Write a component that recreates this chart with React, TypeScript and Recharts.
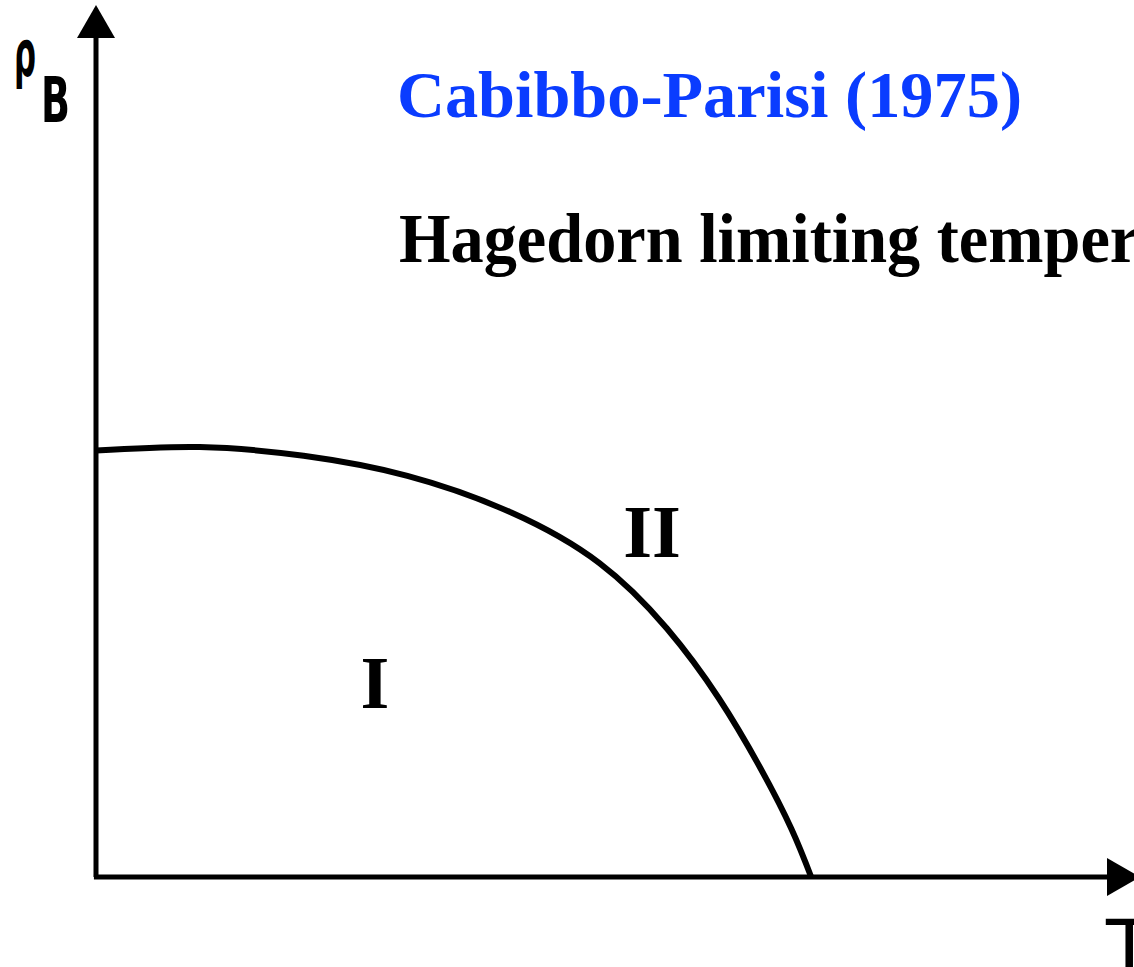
import React from 'react';
import { ComposedChart, Line, Scatter, XAxis, YAxis, ReferenceLine } from 'recharts';

// phase boundary (T and rho_B in arbitrary units, 0..100)
const tValues = [0, 10, 20, 30, 40, 48.5, 55, 60, 64, 67, 68.9];
const rhoValues = [48.9, 49.3, 48.3, 46.0, 41.8, 36.0, 28.5, 20.5, 12.5, 5.5, 0];

const boundary = tValues.map((t, i) => ({ t, rho: rhoValues[i] }));

const xArrowTip = [{ t: 100, rho: 0 }];
const yArrowTip = [{ t: 0, rho: 100 }];

const XArrow = (props: any) => {
    const { cx, cy } = props;
    return <polygon points={`${cx + 6},${cy} ${cx - 27},${cy - 19} ${cx - 27},${cy + 19}`} fill="#000" />;
};

const YArrow = (props: any) => {
    const { cx, cy } = props;
    return <polygon points={`${cx},${cy} ${cx - 19},${cy + 33} ${cx + 19},${cy + 33}`} fill="#000" />;
};

export default function App() {
    return (
        <div style={{ position: 'absolute', left: 0, top: 0, width: 1134, height: 967, background: '#fff', overflow: 'hidden' }}>
            <ComposedChart width={1134} height={967} margin={{ top: 5, right: 0, bottom: 90, left: 96 }}>
                <XAxis type="number" dataKey="t" domain={[0, 100]} hide />
                <YAxis type="number" dataKey="rho" domain={[0, 100]} hide />
                <ReferenceLine segment={[{ x: -0.2, y: 0 }, { x: 98, y: 0 }]} stroke="#000" strokeWidth={5} ifOverflow="visible" />
                <ReferenceLine segment={[{ x: 0, y: 0 }, { x: 0, y: 97 }]} stroke="#000" strokeWidth={5} ifOverflow="visible" />
                <Line
                    data={boundary}
                    dataKey="rho"
                    type="natural"
                    stroke="#000"
                    strokeWidth={6}
                    dot={false}
                    activeDot={false}
                    isAnimationActive={false}
                />
                <Scatter data={xArrowTip} dataKey="rho" shape={<XArrow />} isAnimationActive={false} />
                <Scatter data={yArrowTip} dataKey="rho" shape={<YArrow />} isAnimationActive={false} />

                <text x={14} y={76} textLength={22} lengthAdjust="spacingAndGlyphs" fontFamily="DejaVu Sans" fontWeight="bold" fontSize={64} fill="#000">ρ</text>
                <text x={41} y={122} textLength={29} lengthAdjust="spacingAndGlyphs" fontFamily="DejaVu Sans" fontWeight="bold" fontSize={62} fill="#000">B</text>
                <text x={1106} y={975} fontFamily="DejaVu Sans" fontSize={76} fill="#000">T</text>

                <text x={375} y={708} textAnchor="middle" fontFamily="Liberation Serif" fontWeight="bold" fontSize={74} fill="#000">I</text>
                <text x={652} y={557} textAnchor="middle" fontFamily="Liberation Serif" fontWeight="bold" fontSize={74} fill="#000">II</text>

                <text x={397} y={117} textLength={625} lengthAdjust="spacingAndGlyphs" fontFamily="Liberation Serif" fontWeight="bold" fontSize={66} fill="#0a3cff">Cabibbo-Parisi (1975)</text>
                <text x={399} y={262} textLength={890} lengthAdjust="spacingAndGlyphs" fontFamily="Liberation Serif" fontWeight="bold" fontSize={70} fill="#000">Hagedorn limiting temperature</text>
            </ComposedChart>
        </div>
    );
}
